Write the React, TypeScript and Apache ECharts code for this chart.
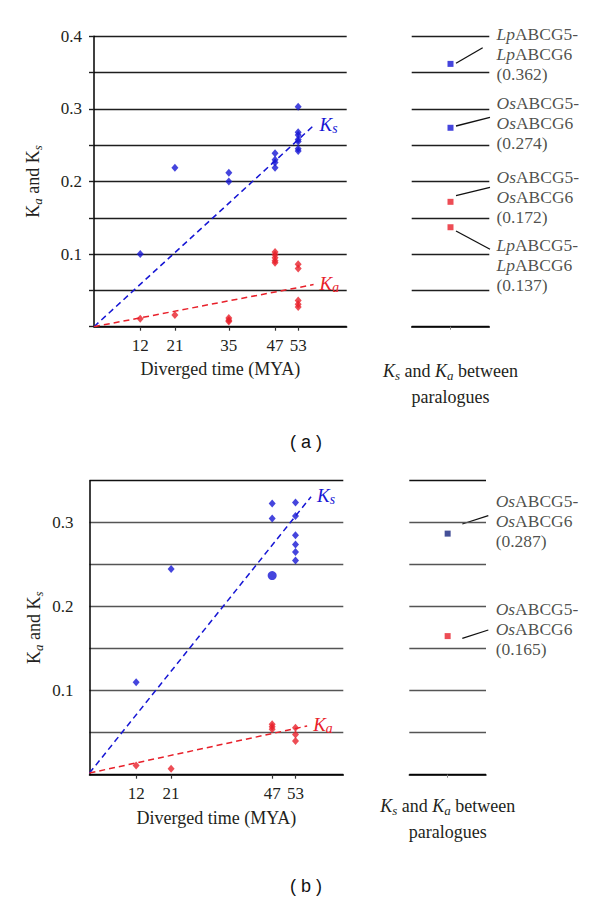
import React, { useEffect, useRef } from 'react';
import * as echarts from 'echarts';

// ---------- data ----------
const xTicksA = [12, 21, 35, 47, 53];
const xTicksB = [12, 21, 47, 53];

// panel (a) – left scatter
const ksA: [number, number][] = [
  [12, 0.1],
  [21, 0.219],
  [35, 0.212], [35, 0.2],
  [47, 0.239], [47, 0.23], [47, 0.226], [47, 0.219],
  [53, 0.303], [53, 0.268], [53, 0.264], [53, 0.258], [53, 0.255], [53, 0.245], [53, 0.242],
];
const kaA: [number, number][] = [
  [12, 0.011],
  [21, 0.016],
  [35, 0.012], [35, 0.009], [35, 0.007],
  [47, 0.103], [47, 0.099], [47, 0.095], [47, 0.091], [47, 0.088],
  [53, 0.086], [53, 0.08], [53, 0.036], [53, 0.031], [53, 0.027],
];
const ksTrendA: [number, number][] = [[0, 0], [57, 0.277]];
const kaTrendA: [number, number][] = [[0, 0], [57, 0.058]];

// panel (b) – left scatter
const ksB: [number, number][] = [
  [12, 0.11],
  [21, 0.245],
  [47, 0.323], [47, 0.305],
  [53, 0.324], [53, 0.308], [53, 0.285], [53, 0.274], [53, 0.265], [53, 0.255],
];
const ksBigB: [number, number][] = [[47, 0.237]];
const kaB: [number, number][] = [
  [12, 0.011],
  [21, 0.007],
  [47, 0.06], [47, 0.057], [47, 0.054],
  [53, 0.056], [53, 0.048], [53, 0.04],
];
const ksTrendB: [number, number][] = [[0, 0.002], [57, 0.331]];
const kaTrendB: [number, number][] = [[0, 0.002], [56, 0.058]];

// paralogue values (right panels)
const paraKsA = [
  { sp: 'Lp', value: 0.362 },
  { sp: 'Os', value: 0.274 },
];
const paraKaA = [
  { sp: 'Os', value: 0.172 },
  { sp: 'Lp', value: 0.137 },
];
const paraKsB = [{ sp: 'Os', value: 0.287 }];
const paraKaB = [{ sp: 'Os', value: 0.165 }];

// ---------- styles ----------
const SERIF = 'Liberation Serif';
const TXT = '#231f20';
const BLUE = '#1616d4';
const NAVY = '#17247e';
const RED = '#e8202a';
const GRID_A = '#1e1e1e';
const GRID_B = '#555555';

const richBase = (size: number, color: string) => ({
  k: { fontFamily: SERIF, fontSize: size, fontStyle: 'italic', color, lineHeight: 20, padding: [0, 0, 2, 0], verticalAlign: 'bottom' },
  ku: { fontFamily: SERIF, fontSize: size, color, lineHeight: 20, padding: [0, 0, 2, 0], verticalAlign: 'bottom' },
  sub: { fontFamily: SERIF, fontSize: size * 0.72, fontStyle: 'italic', color, lineHeight: 14, verticalAlign: 'bottom' },
  t: { fontFamily: SERIF, fontSize: size, color, lineHeight: 20, padding: [0, 0, 2, 0], verticalAlign: 'bottom' },
});

const yLabelFmt = (v: number) => {
  const r = Math.round(v * 100);
  return r > 0 && r % 10 === 0 ? v.toFixed(1) : '';
};

const paraLabel = (sp: string, v: number) =>
  `{i|${sp}}{n|ABCG5-}\n{i|${sp}}{n|ABCG6}\n{n|(${v.toFixed(3)})}`;

const paraRich = {
  i: { fontFamily: SERIF, fontSize: 17.5, fontStyle: 'italic', color: TXT, lineHeight: 20 },
  n: { fontFamily: SERIF, fontSize: 17.5, color: TXT, lineHeight: 20 },
};

export default function App() {
  const ref = useRef<HTMLDivElement>(null);

  useEffect(() => {
    if (!ref.current) return;
    const chart = echarts.init(ref.current, undefined, { renderer: 'svg' });

    const leftX = (gi: number, ticks: number[], max: number, gap: number) => ({
      gridIndex: gi,
      type: 'value',
      min: 0,
      max,
      splitLine: { show: false },
      axisLine: { show: true, onZero: false, lineStyle: { color: '#000', width: 1.5 } },
      axisTick: { show: true, customValues: ticks, length: 4, lineStyle: { color: '#333', width: 1.2 } },
      axisLabel: { show: true, customValues: ticks, margin: 10, fontFamily: SERIF, fontSize: 17, color: TXT },
      name: 'Diverged time (MYA)',
      nameLocation: 'middle',
      nameGap: gap,
      nameTextStyle: { fontFamily: SERIF, fontSize: 18, color: TXT },
    });

    const rightX = (gi: number, gap: number) => ({
      gridIndex: gi,
      type: 'value',
      min: 0,
      max: 2,
      splitLine: { show: false },
      axisLine: { show: true, onZero: false, lineStyle: { color: '#000', width: 1.5 } },
      axisTick: { show: true, customValues: [1], length: 3, lineStyle: { color: '#888', width: 1 } },
      axisLabel: { show: false },
      name: '{k|K}{sub|s}{t| and }{k|K}{sub|a}{t| between}\n{t|paralogues}',
      nameLocation: 'middle',
      nameGap: gap,
      nameTextStyle: { rich: { ...richBase(18, TXT), k: { ...richBase(18, TXT).k, lineHeight: 26 }, t: { ...richBase(18, TXT).t, lineHeight: 26 } } },
    });

    const leftY = (gi: number, max: number, gridColor: any, ticks: boolean, margin: number, gap: number) => ({
      gridIndex: gi,
      type: 'value',
      min: 0,
      max,
      interval: 0.05,
      axisLine: { show: true, lineStyle: { color: '#000', width: 1.5 } },
      axisTick: { show: ticks, length: 5, lineStyle: { color: '#1e1e1e', width: 1.4 } },
      splitLine: { show: true, lineStyle: { color: gridColor, width: 1.4 } },
      axisLabel: { formatter: yLabelFmt, margin, fontFamily: SERIF, fontSize: 17, color: TXT },
      name: '{ku|K}{sub|a}{t| and }{ku|K}{sub|s}',
      nameLocation: 'middle',
      nameRotate: 90,
      nameGap: gap,
      nameTextStyle: { rich: richBase(18, TXT) },
    });

    const rightY = (gi: number, max: number, gridColor: any) => ({
      gridIndex: gi,
      type: 'value',
      min: 0,
      max,
      interval: 0.05,
      axisLine: { show: false },
      axisTick: { show: false },
      axisLabel: { show: false },
      splitLine: { show: true, lineStyle: { color: gridColor, width: 1.4 } },
    });

    const scatter = (xi: number, data: [number, number][], color: string, symbol = 'diamond', size: any = [7, 8]) => ({
      type: 'scatter',
      xAxisIndex: xi,
      yAxisIndex: xi,
      data,
      symbol,
      symbolSize: size,
      itemStyle: { color },
      z: 5,
    });

    const trend = (xi: number, data: [number, number][], color: string, sub: string) => ({
      type: 'line',
      xAxisIndex: xi,
      yAxisIndex: xi,
      data,
      symbol: 'none',
      lineStyle: { color, width: 1.5, type: [6, 4] },
      endLabel: {
        show: true,
        distance: 6,
        formatter: `{k|K}{sub|${sub}}`,
        rich: richBase(19, color),
      },
      z: 4,
    });

    const para = (xi: number, items: { sp: string; value: number }[], color: string, offsets: [number, number][]) => ({
      type: 'scatter',
      xAxisIndex: xi,
      yAxisIndex: xi,
      symbol: 'rect',
      symbolSize: 6,
      itemStyle: { color },
      data: items.map((it, k) => ({
        value: [1, it.value],
        label: {
          show: true,
          position: 'right',
          distance: 0,
          offset: offsets[k],
          formatter: paraLabel(it.sp, it.value),
          rich: paraRich,
        },
      })),
      z: 5,
    });

    const line = (x1: number, y1: number, x2: number, y2: number) => ({
      type: 'line',
      shape: { x1, y1, x2, y2 },
      style: { stroke: '#111', lineWidth: 1.3 },
      silent: true,
    });

    const gridBColors = ['#111', GRID_B, GRID_B, GRID_B, GRID_B, GRID_B, GRID_B, '#111'];

    const option: any = {
      animation: false,
      backgroundColor: '#fff',
      textStyle: { fontFamily: SERIF },
      grid: [
        { left: 94, top: 36.3, width: 252.7, height: 290.4 },
        { left: 411.7, top: 36.3, width: 77.6, height: 290.4 },
        { left: 89.5, top: 480.7, width: 253.8, height: 294 },
        { left: 409.3, top: 480.7, width: 76.7, height: 294 },
      ],
      xAxis: [
        leftX(0, xTicksA, 65.6, 33),
        rightX(1, 29),
        leftX(2, xTicksB, 65.3, 34),
        rightX(3, 16),
      ],
      yAxis: [
        leftY(0, 0.4, GRID_A, true, 12, 50),
        rightY(1, 0.4, GRID_A),
        leftY(2, 0.35, gridBColors, false, 16, 45),
        rightY(3, 0.35, gridBColors),
      ],
      series: [
        trend(0, ksTrendA, BLUE, 's'),
        trend(0, kaTrendA, RED, 'a'),
        scatter(0, ksA, BLUE),
        scatter(0, kaA, RED),
        para(1, paraKsA, BLUE, [[43, -10], [43, -5]]),
        para(1, paraKaA, RED, [[43, -5], [43, 38]]),
        trend(2, ksTrendB, BLUE, 's'),
        trend(2, kaTrendB, RED, 'a'),
        scatter(2, ksB, BLUE),
        scatter(2, ksBigB, BLUE, 'circle', 9),
        scatter(2, kaB, RED),
        para(3, paraKsB, NAVY, [[45, -13]]),
        para(3, paraKaB, RED, [[45, -7]]),
      ],
      graphic: [
        line(456, 63.3, 482.7, 47.7),
        line(456, 126, 490, 117.3),
        line(456, 195.7, 490, 187.3),
        line(456, 231, 490, 249.3),
        line(462.3, 524, 488.3, 515.7),
        line(462.3, 638.3, 488.3, 630),
        {
          type: 'text',
          x: 306,
          y: 442,
          style: { text: '( a )', font: '18px Liberation Sans', fill: '#111', align: 'center', verticalAlign: 'middle' },
        },
        {
          type: 'text',
          x: 306,
          y: 886,
          style: { text: '( b )', font: '18px Liberation Sans', fill: '#111', align: 'center', verticalAlign: 'middle' },
        },
      ],
    };

    chart.setOption(option);
    return () => chart.dispose();
  }, []);

  return <div ref={ref} style={{ position: 'absolute', left: 0, top: 0, width: 600, height: 908 }} />;
}
